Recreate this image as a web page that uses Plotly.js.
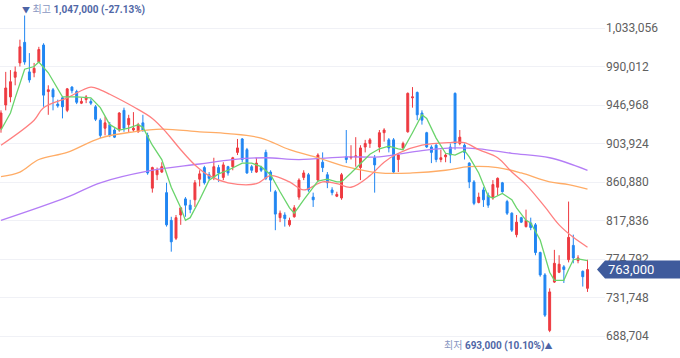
<!DOCTYPE html>
<html>
<head>
<meta charset="utf-8">
<script src="https://cdn.plot.ly/plotly-3.0.1.min.js"></script>
<style>html,body{margin:0;padding:0;background:#fff;}#chart{width:680px;height:358px;}</style>
</head>
<body>
<div id="chart"></div>
<script>
// Daily OHLC (KRW), oldest -> newest
const open = [921000,947000,956000,978000,994000,1017000,984000,983000,995000,1014000,
962000,964000,948000,955000,941000,967000,962000,949000,953000,951000,
945000,930000,921000,925000,919000,919000,941000,925000,919000,917000,
927000,913000,854000,869000,872000,849000,818000,798000,824000,842000,
835000,841000,864000,877000,869000,866000,877000,866000,878000,878000,
894000,909000,897000,878000,872000,877000,894000,872000,850000,821000,
824000,813000,822000,844000,866000,869000,844000,863000,883000,869000,
852000,845000,843000,889000,888000,889000,877000,900000,904000,888000,
900000,916000,908000,908000,886000,899000,917000,955000,961000,938000,
916000,900000,902000,886000,889000,900000,960000,904000,902000,882000,
861000,838000,852000,846000,843000,855000,860000,839000,826000,802000,
821000,811000,815000,813000,782000,757000,695000,749000,760000,766000,
774000,790000,773000,761000,742000];
const high = [941000,984000,986000,990000,1020000,1047000,1005000,994000,1012000,1016000,
969000,966000,953000,956000,966000,968000,964000,955000,958000,954000,
947000,932000,934000,928000,921000,939000,944000,936000,939000,927000,
936000,916000,878000,877000,883000,860000,822000,824000,833000,844000,
841000,863000,874000,879000,872000,888000,880000,883000,879000,889000,
909000,910000,899000,880000,888000,879000,897000,874000,852000,829000,
827000,821000,835000,865000,874000,871000,849000,893000,894000,872000,
855000,850000,871000,919000,902000,911000,902000,908000,910000,891000,
919000,921000,910000,910000,893000,906000,961000,967000,962000,941000,
917000,902000,904000,897000,893000,904000,961000,919000,904000,883000,
863000,849000,855000,849000,863000,866000,861000,841000,827000,824000,
822000,830000,821000,815000,783000,759000,742000,785000,779000,768000,
839000,802000,779000,762000,774000];
const low = [916000,941000,950000,969000,990000,992000,972000,978000,994000,945000,
936000,941000,944000,932000,939000,960000,948000,948000,949000,947000,
929000,910000,913000,911000,910000,917000,917000,916000,917000,916000,
917000,869000,849000,863000,871000,811000,783000,796000,813000,822000,
826000,833000,856000,858000,863000,863000,861000,863000,868000,874000,
891000,883000,870000,871000,871000,872000,863000,850000,807000,816000,
811000,811000,821000,841000,863000,850000,833000,861000,872000,854000,
846000,844000,841000,882000,886000,878000,863000,894000,899000,849000,
894000,906000,894000,871000,872000,897000,916000,944000,930000,925000,
899000,882000,883000,883000,883000,882000,897000,902000,886000,854000,
835000,837000,833000,832000,841000,846000,849000,824000,805000,799000,
815000,810000,807000,779000,755000,710000,693000,748000,759000,748000,
771000,770000,770000,744000,738000];
const close = [938000,966000,973000,984000,1012000,995000,975000,988000,1009000,958000,
964000,956000,946000,945000,965000,963000,950000,951000,956000,949000,
931000,913000,927000,913000,911000,938000,921000,932000,921000,925000,
919000,871000,877000,874000,878000,813000,794000,821000,832000,835000,
830000,860000,870000,860000,865000,878000,871000,880000,871000,888000,
899000,886000,871000,874000,882000,874000,865000,863000,825000,826000,
820000,818000,832000,863000,871000,852000,841000,891000,877000,860000,
849000,847000,869000,886000,889000,890000,899000,904000,908000,880000,
916000,919000,899000,872000,891000,904000,960000,956000,936000,930000,
900000,894000,886000,888000,891000,891000,904000,911000,894000,861000,
837000,844000,841000,835000,858000,865000,850000,826000,807000,816000,
816000,818000,810000,782000,757000,712000,738000,770000,769000,763000,
799000,776000,776000,755000,763000];

// Moving averages (candle index, value)
const ma5Idx = [0,2,3,5,7,8,10,12,13,16,19,21,23,25,27,29,30,32,34,36,38,39,40,42,44,46,48,51,53,55,57,59,61,62,64,67,69,71,72,74,76,78,80,82,84,85,87,89,90,92,94,96,98,99,101,103,104,106,108,109,111,112,114,116,117,119,120,121,122,124];
const ma5Val = [919000,938000,955000,987000,990000,995000,983000,964000,956000,956000,955000,944000,925000,919000,921000,925000,922000,902000,886000,855000,832000,818000,821000,841000,863000,870000,874000,882000,882000,878000,869000,850000,832000,826000,841000,862000,864000,861000,861000,871000,882000,892000,898000,901000,898000,897000,916000,936000,932000,910000,893000,891000,896000,889000,871000,845000,843000,848000,841000,832000,818000,815000,796000,760000,751000,751000,763000,774000,775000,773000];
const ma20Idx = [0,7,9,14,19,21,23,28,32,35,38,41,44,48,54,57,61,64,68,71,74,78,81,84,89,95,98,101,105,108,111,115,118,121,124];
const ma20Val = [902000,930000,944000,955000,967000,964000,959000,945000,932000,916000,897000,880000,868000,860000,859000,868000,861000,852000,861000,859000,855000,868000,883000,893000,902000,905000,905000,897000,888000,872000,858000,833000,813000,799000,788000];
const ma60Idx = [0,4,8,14,21,28,34,42,48,55,61,67,73,80,87,94,99,105,110,116,120,124];
const ma60Val = [867000,872000,886000,894000,910000,917000,920000,917000,915000,910000,897000,888000,878000,871000,871000,874000,878000,877000,871000,861000,858000,853000];
const ma120Idx = [0,14,21,31,42,49,56,63,73,80,89,96,101,108,116,124];
const ma120Val = [818000,844000,860000,873000,881000,886000,888000,886000,889000,889000,896000,899000,898000,893000,888000,874000];

const yTicks = [688704,731748,774792,817836,860880,903924,946968,990012,1033056];
const highLabel = '1,047,000 (-27.13%)';
const lowLabel = '693,000 (10.10%)';
const lastPrice = 763000;
const lastLabel = '763,000';

const idx = open.map((_, i) => i);
const hiIdx = high.indexOf(Math.max(...high));
const loIdx = low.indexOf(Math.min(...low));

const RED = '#ee3a40', BLUE = '#2186f2';
const traces = [
  {type:'candlestick', x:idx, open:open, high:high, low:low, close:close,
   increasing:{line:{color:RED,width:1}, fillcolor:RED},
   decreasing:{line:{color:BLUE,width:1}, fillcolor:BLUE},
   whiskerwidth:0, hoverinfo:'skip', showlegend:false},
  {type:'scatter', mode:'lines', x:ma120Idx, y:ma120Val, line:{color:'#b47df6', width:1.3, shape:'spline'}, hoverinfo:'skip', showlegend:false},
  {type:'scatter', mode:'lines', x:ma60Idx, y:ma60Val, line:{color:'#ffac66', width:1.3, shape:'spline'}, hoverinfo:'skip', showlegend:false},
  {type:'scatter', mode:'lines', x:ma20Idx, y:ma20Val, line:{color:'#ff8080', width:1.3, shape:'spline'}, hoverinfo:'skip', showlegend:false},
  {type:'scatter', mode:'lines', x:ma5Idx, y:ma5Val, line:{color:'#6ad46c', width:1.3}, hoverinfo:'skip', showlegend:false}
];

const FONT = 'Roboto, "Noto Sans CJK KR", sans-serif';
const layout = {
  width:680, height:358,
  margin:{l:0, r:75, t:0, b:0},
  paper_bgcolor:'#ffffff', plot_bgcolor:'#ffffff',
  hovermode:false, showlegend:false, boxgap:0.42,
  font:{family:FONT, size:12, color:'#555'},
  xaxis:{range:[-0.21,127.7], visible:false, rangeslider:{visible:false}, fixedrange:true},
  yaxis:{side:'right', range:[664116,1064360], tickvals:yTicks,
         ticktext:yTicks.map(v => v.toLocaleString('en-US')),
         showgrid:true, gridcolor:'#f0f1f6', gridwidth:1, zeroline:false, showline:false,
         ticks:'', tickfont:{family:FONT, size:12, color:'#606060'}, fixedrange:true},
  shapes:[
    {type:'path', xref:'paper', yref:'y', xsizemode:'pixel', ysizemode:'pixel',
     xanchor:1, yanchor:lastPrice, path:'M -8,0 L 0,9 L 80,9 L 80,-9 L 0,-9 Z',
     fillcolor:'#3f5b9c', line:{width:0}, layer:'above'}
  ],
  annotations:[
    {xref:'paper', yref:'y', x:1, y:lastPrice, xanchor:'left', yanchor:'middle', xshift:1,
     text:lastLabel, showarrow:false, font:{family:FONT, size:13, color:'#ffffff'}},
    {xref:'x', yref:'paper', x:hiIdx, y:1, xanchor:'left', yanchor:'top', xshift:-5, yshift:-2,
     text:'<span style="font-size:8px;color:#4d64a6">▼</span> <span style="color:#8a97c2">최고</span> <b>' + highLabel + '</b>',
     showarrow:false, font:{family:FONT, size:10, color:'#5067a6'}},
    {xref:'x', yref:'paper', x:loIdx, y:0, xanchor:'right', yanchor:'bottom', xshift:5, yshift:4,
     text:'<span style="color:#8a97c2">최저</span> <b>' + lowLabel + '</b><span style="font-size:8px;color:#4d64a6">▲</span>',
     showarrow:false, font:{family:FONT, size:10, color:'#5067a6'}}
  ]
};
Plotly.newPlot('chart', traces, layout, {staticPlot:true, displayModeBar:false});
</script>
</body>
</html>
